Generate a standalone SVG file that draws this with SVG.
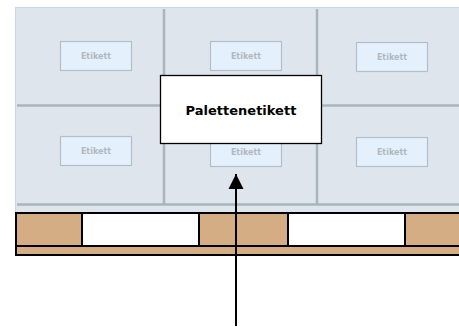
<svg xmlns="http://www.w3.org/2000/svg" width="459" height="327" viewBox="0 0 459 327">
<defs>
<style>
.div{stroke:#a8b4be;stroke-width:2.5;fill:none}
.sl rect{fill:#e4f0fb;stroke:#b3bec8;stroke-width:1.2}
.sl text{font-family:"DejaVu Sans",sans-serif;font-weight:bold;font-size:8px;fill:#b0b8c1;text-anchor:middle}
.wood{fill:#d5ad85;stroke:#000;stroke-width:2}
</style>
<marker id="ah" markerWidth="8" markerHeight="8" refX="7.5" refY="4" orient="auto" markerUnits="userSpaceOnUse" viewBox="0 0 8 8">
<path d="M0,0 L8,4 L0,8 Z" fill="#000"/>
</marker>
<marker id="ah2" markerWidth="16" markerHeight="16" refX="15" refY="7.5" orient="auto" markerUnits="userSpaceOnUse" viewBox="0 0 16 15">
<path d="M0,0 L15,7.5 L0,15 Z" fill="#000"/>
</marker>
</defs>
<g id="boxes">
<rect x="15.5" y="7.5" width="460" height="206" fill="#dfe5ec" stroke="#c8d8e8" stroke-width="1"/>
<line class="div" x1="164" y1="9" x2="164" y2="204"/>
<line class="div" x1="317" y1="9" x2="317" y2="204"/>
<line class="div" x1="17" y1="105.5" x2="459" y2="105.5"/>
<line class="div" x1="17" y1="204.5" x2="459" y2="204.5"/>
</g>
<g id="label1" class="sl"><rect x="60.5" y="41.5" width="71" height="29"/><text x="96" y="58.7">Etikett</text></g>
<g id="label2" class="sl"><rect x="210.5" y="41.5" width="71" height="29"/><text x="246" y="58.7">Etikett</text></g>
<g id="label3" class="sl"><rect x="356.5" y="42.5" width="71" height="29"/><text x="392" y="59.7">Etikett</text></g>
<g id="label4" class="sl"><rect x="60.5" y="136.5" width="71" height="29"/><text x="96" y="153.7">Etikett</text></g>
<g id="label5" class="sl"><rect x="210.5" y="137.5" width="71" height="29"/><text x="246" y="154.7">Etikett</text></g>
<g id="label6" class="sl"><rect x="356.5" y="137.5" width="71" height="29"/><text x="392" y="154.7">Etikett</text></g>
<g id="pallet">
<rect class="wood" x="16" y="246" width="460" height="9"/>
<rect x="16" y="213" width="460" height="33" fill="#fff" stroke="#000" stroke-width="2"/>
<rect class="wood" x="16" y="213" width="66" height="33"/>
<rect class="wood" x="199" y="213" width="89" height="33"/>
<rect class="wood" x="405" y="213" width="71" height="33"/>
</g>
<g id="palettenetikett">
<rect x="160.5" y="75.5" width="161" height="68" fill="#fff" stroke="#000" stroke-width="1.3"/>
<text x="241" y="115" font-family="DejaVu Sans, sans-serif" font-weight="bold" font-size="13" text-anchor="middle" fill="#000">Palettenetikett</text>
</g>
<g id="connectors">
<line x1="236" y1="326" x2="236" y2="174" stroke="#000" stroke-width="2" marker-end="url(#ah2)"/>
</g>
</svg>
